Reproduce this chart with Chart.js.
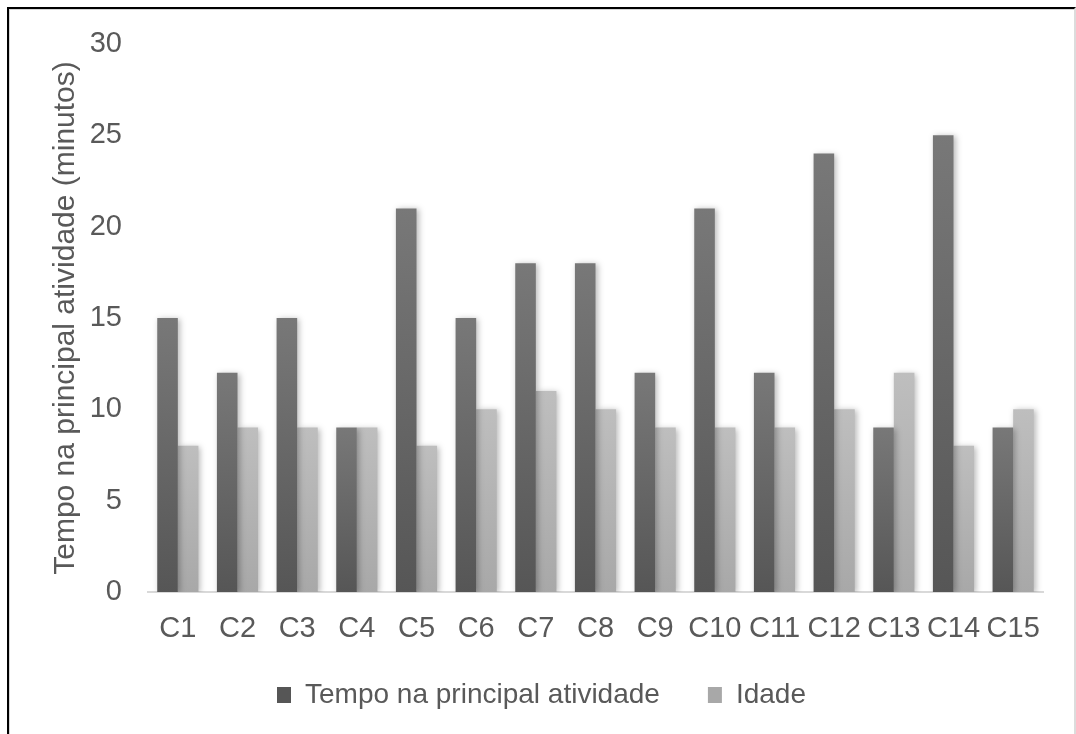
<!DOCTYPE html>
<html>
<head>
<meta charset="utf-8">
<script src="https://cdn.jsdelivr.net/npm/chart.js@4/dist/chart.umd.min.js"></script>
<style>
  html, body { margin: 0; padding: 0; background: #fff; }
  #wrap { position: relative; width: 1076px; height: 734px; overflow: hidden; background: #fff; }
  #c { position: absolute; left: 0; top: 0; }
  #frame {
    position: absolute; left: 7px; top: 7px; width: 1065px; height: 740px;
    border-top: 2px solid #000; border-left: 2px solid #000; border-right: 2px solid #dcdcdc;
    box-shadow: inset 1px 1px 0 #d6d6d6;
    pointer-events: none;
  }
</style>
</head>
<body>
<div id="wrap">
  <canvas id="c" width="1076" height="734"></canvas>
  <div id="frame"></div>
</div>
<script>
const categories = ['C1','C2','C3','C4','C5','C6','C7','C8','C9','C10','C11','C12','C13','C14','C15'];
const tempo = [15, 12, 15, 9, 21, 15, 18, 18, 12, 21, 12, 24, 9, 25, 9];
const idade = [8, 9, 9, 9, 8, 10, 11, 10, 9, 9, 9, 10, 12, 8, 10];
const seriesNames = ['Tempo na principal atividade', 'Idade'];
const yTitle = 'Tempo na principal atividade (minutos)';
const yMin = 0, yMax = 30, yStep = 5;

Chart.defaults.font.family = "'Liberation Sans', Arial, sans-serif";
Chart.defaults.color = '#595959';

function barGradient(top, bottom, solid) {
  return function (ctx) {
    if (ctx.type !== 'data') return solid;
    const chart = ctx.chart;
    const area = chart.chartArea;
    if (!area || !chart.scales.y) return solid;
    const yScale = chart.scales.y;
    const y0 = yScale.getPixelForValue(ctx.parsed ? ctx.parsed.y : ctx.raw);
    const y1 = yScale.getPixelForValue(0);
    if (!isFinite(y0) || !isFinite(y1) || y0 === y1) return solid;
    const g = chart.ctx.createLinearGradient(0, y0, 0, y1);
    g.addColorStop(0, top);
    g.addColorStop(1, bottom);
    return g;
  };
}

const shadowPlugin = {
  id: 'barShadow',
  beforeDatasetsDraw(chart) {
    const c = chart.ctx;
    c.save();
    c.shadowColor = 'rgba(0,0,0,0.28)';
    c.shadowBlur = 6;
    c.shadowOffsetX = 2;
    c.shadowOffsetY = 1;
  },
  afterDatasetsDraw(chart) {
    chart.ctx.restore();
  }
};

// nudge the legend box up a little so it sits where the reference legend is
const legendShift = {
  id: 'legendShift',
  afterLayout(chart) {
    const lg = chart.legend;
    if (lg) { lg.top -= 15; lg.bottom -= 15; }
  }
};

new Chart(document.getElementById('c'), {
  type: 'bar',
  data: {
    labels: categories,
    datasets: [
      {
        label: seriesNames[0],
        data: tempo,
        backgroundColor: barGradient('#787878', '#565656', '#5c5c5c'),
        borderWidth: 0,
        barPercentage: 1.0,
        categoryPercentage: 0.69
      },
      {
        label: seriesNames[1],
        data: idade,
        backgroundColor: barGradient('#bebebe', '#a8a8a8', '#adadad'),
        borderWidth: 0,
        barPercentage: 1.0,
        categoryPercentage: 0.69
      }
    ]
  },
  options: {
    responsive: false,
    devicePixelRatio: 1,
    animation: false,
    layout: { padding: { left: 40, right: 33, top: 44, bottom: 0 } },
    plugins: {
      legend: {
        position: 'bottom',
        labels: {
          boxWidth: 14,
          boxHeight: 16,
          padding: 48,
          color: '#595959',
          font: { size: 28 }
        }
      },
      tooltip: { enabled: false },
      title: { display: false }
    },
    scales: {
      x: {
        grid: { display: false, drawTicks: false },
        border: { display: true, color: '#d9d9d9', width: 2 },
        ticks: { padding: 20, color: '#595959', font: { size: 29 }, maxRotation: 0, autoSkip: false },
        afterFit: (s) => { s.height = 56; }
      },
      y: {
        min: yMin,
        max: yMax,
        grid: { display: false, drawTicks: false },
        border: { display: false },
        ticks: { stepSize: yStep, padding: 26, color: '#595959', font: { size: 29 } },
        title: {
          display: true,
          text: yTitle,
          color: '#595959',
          font: { size: 30 },
          padding: { top: 8, bottom: 0 }
        },
        afterFit: (s) => { s.width = 108; }
      }
    }
  },
  plugins: [shadowPlugin, legendShift]
});
</script>
</body>
</html>
